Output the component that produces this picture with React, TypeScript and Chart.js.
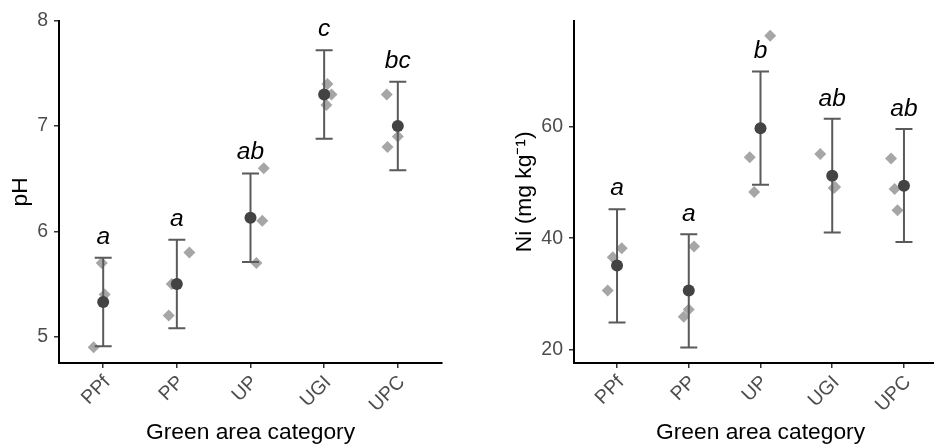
import React, { useEffect, useRef } from 'react';
import { Chart, registerables } from 'chart.js';

Chart.register(...registerables);

const FONT = "'Liberation Sans', Arial, Helvetica, sans-serif";

// ---------- data ----------
const categories = ['PPf', 'PP', 'UP', 'UGI', 'UPC'];

// pH panel
const phMean = [5.33, 5.5, 6.13, 7.3, 7.0];
const phLower = [4.91, 5.08, 5.71, 6.88, 6.58];
const phUpper = [5.75, 5.92, 6.55, 7.72, 7.42];
const phObs = [
  [5.7, 5.4, 4.9],
  [5.8, 5.5, 5.2],
  [6.6, 6.1, 5.7],
  [7.4, 7.3, 7.2],
  [7.3, 6.9, 6.8],
];
const phObsJitter = [
  [-0.02, 0.02, -0.13],
  [0.17, -0.07, -0.11],
  [0.18, 0.16, 0.08],
  [0.045, 0.1, 0.03],
  [-0.15, 0.0, -0.14],
];
const phLetters = ['a', 'a', 'ab', 'c', 'bc'];
const phLetterY = [5.88, 6.05, 6.69, 7.855, 7.555];
const phTicks = [5, 6, 7, 8];

// Ni panel
const niMean = [35.1, 30.6, 59.7, 51.2, 49.4];
const niLower = [24.9, 20.4, 49.6, 41.0, 39.3];
const niUpper = [45.2, 40.7, 69.9, 61.4, 59.6];
const niObs = [
  [38.2, 36.6, 30.6],
  [38.5, 27.2, 25.9],
  [76.3, 54.5, 48.3],
  [55.1, 49.2, 49.0],
  [54.3, 48.8, 45.0],
];
const niObsJitter = [
  [0.066, -0.06, -0.13],
  [0.074, 0.0, -0.07],
  [0.135, -0.15, -0.088],
  [-0.167, 0.04, 0.02],
  [-0.18, -0.13, -0.09],
];
const niLetters = ['a', 'a', 'b', 'ab', 'ab'];
const niLetterY = [47.77, 43.16, 72.25, 63.7, 61.97];
const niTicks = [20, 40, 60];

type PanelSpec = {
  mean: number[];
  lower: number[];
  upper: number[];
  obs: number[][];
  jitter: number[][];
  letters: string[];
  letterY: number[];
  ticks: number[];
  yMin: number;
  yMax: number;
  yTitle: string;
  yAxisWidth: number;
  yTitlePad: number;
};

function makeConfig(spec: PanelSpec): any {
  const means = spec.mean.map((v, i) => ({ x: i + 1, y: v }));
  const obs: { x: number; y: number }[] = [];
  spec.obs.forEach((vals, i) =>
    vals.forEach((v, j) => obs.push({ x: i + 1 + spec.jitter[i][j], y: v }))
  );

  const overlay = {
    id: 'overlay',
    afterDatasetDraw(chart: any, args: any) {
      if (args.index !== 1) return;
      const { ctx } = chart;
      const x = chart.scales.x;
      const y = chart.scales.y;
      ctx.save();
      ctx.strokeStyle = '#5a5a5a';
      ctx.lineWidth = 2;
      spec.lower.forEach((lo, i) => {
        const px = x.getPixelForValue(i + 1);
        const pl = y.getPixelForValue(lo);
        const pu = y.getPixelForValue(spec.upper[i]);
        ctx.beginPath();
        ctx.moveTo(px, pl);
        ctx.lineTo(px, pu);
        ctx.moveTo(px - 8.5, pl);
        ctx.lineTo(px + 8.5, pl);
        ctx.moveTo(px - 8.5, pu);
        ctx.lineTo(px + 8.5, pu);
        ctx.stroke();
      });
      ctx.restore();
    },
    afterDatasetsDraw(chart: any) {
      const { ctx } = chart;
      const x = chart.scales.x;
      const y = chart.scales.y;
      ctx.save();
      ctx.fillStyle = '#000';
      ctx.font = `italic 24.5px ${FONT}`;
      ctx.textAlign = 'center';
      ctx.textBaseline = 'alphabetic';
      spec.letters.forEach((t, i) => {
        ctx.fillText(t, x.getPixelForValue(i + 1), y.getPixelForValue(spec.letterY[i]));
      });
      ctx.restore();
    },
  };

  return {
    type: 'scatter',
    data: {
      datasets: [
        {
          label: 'mean',
          data: means,
          order: 0,
          pointRadius: 6,
          pointHoverRadius: 6,
          pointBackgroundColor: '#434343',
          pointBorderWidth: 0,
          pointBorderColor: 'rgba(0,0,0,0)',
        },
        {
          label: 'obs',
          data: obs,
          order: 1,
          pointStyle: 'rectRot',
          pointRadius: 6,
          pointHoverRadius: 6,
          pointBackgroundColor: '#a6a6a6',
          pointBorderWidth: 0,
          pointBorderColor: 'rgba(0,0,0,0)',
        },
      ],
    },
    options: {
      animation: false,
      responsive: false,
      devicePixelRatio: 1,
      events: [],
      layout: { padding: { left: 0, right: 25, top: 20.7, bottom: 0 } },
      plugins: { legend: { display: false }, tooltip: { enabled: false } },
      scales: {
        x: {
          type: 'linear',
          min: 0.4,
          max: 5.6,
          afterBuildTicks: (s: any) => {
            s.ticks = categories.map((_, i) => ({ value: i + 1 }));
          },
          afterFit: (s: any) => {
            s.height = 81;
          },
          grid: { drawOnChartArea: false, drawTicks: true, tickLength: 5, color: '#333', lineWidth: 1.5 },
          border: { display: true, color: '#000', width: 2 },
          ticks: {
            autoSkip: false,
            minRotation: 45,
            maxRotation: 45,
            padding: 3,
            labelOffset: 4,
            color: '#4d4d4d',
            font: { family: FONT, size: 19.5 },
            callback: (v: number) => categories[Math.round(v) - 1] ?? '',
          },
          title: {
            display: true,
            text: 'Green area category',
            color: '#000',
            font: { family: FONT, size: 22.8, lineHeight: 1 },
            padding: { top: 0, bottom: 0 },
          },
        },
        y: {
          type: 'linear',
          min: spec.yMin,
          max: spec.yMax,
          afterBuildTicks: (s: any) => {
            s.ticks = spec.ticks.map((v) => ({ value: v }));
          },
          afterFit: (s: any) => {
            s.width = spec.yAxisWidth;
          },
          grid: { drawOnChartArea: false, drawTicks: true, tickLength: 5, color: '#333', lineWidth: 1.5 },
          border: { display: true, color: '#000', width: 2 },
          ticks: {
            padding: 6,
            color: '#4d4d4d',
            font: { family: FONT, size: 19.5 },
            callback: (v: number) => String(v),
          },
          title: {
            display: true,
            text: spec.yTitle,
            color: '#000',
            font: { family: FONT, size: 22.8, lineHeight: 1.2 },
            padding: { top: spec.yTitlePad, bottom: 0 },
          },
        },
      },
    },
    plugins: [overlay],
  };
}

const phSpec: PanelSpec = {
  mean: phMean,
  lower: phLower,
  upper: phUpper,
  obs: phObs,
  jitter: phObsJitter,
  letters: phLetters,
  letterY: phLetterY,
  ticks: phTicks,
  yMin: 4.75,
  yMax: 8.0,
  yTitle: 'pH',
  yAxisWidth: 59,
  yTitlePad: 7.5,
};

const niSpec: PanelSpec = {
  mean: niMean,
  lower: niLower,
  upper: niUpper,
  obs: niObs,
  jitter: niObsJitter,
  letters: niLetters,
  letterY: niLetterY,
  ticks: niTicks,
  yMin: 17.62,
  yMax: 79.0,
  yTitle: 'Ni (mg kg\u207B\u00B9)',
  yAxisWidth: 107,
  yTitlePad: 44.5,
};

function Panel({ spec, left, width }: { spec: PanelSpec; left: number; width: number }) {
  const ref = useRef<HTMLCanvasElement | null>(null);
  useEffect(() => {
    if (!ref.current) return;
    const chart = new Chart(ref.current, makeConfig(spec));
    return () => chart.destroy();
  }, [spec]);
  return (
    <canvas
      ref={ref}
      width={width}
      height={444}
      style={{ position: 'absolute', left, top: 0, width, height: 444, display: 'block' }}
    />
  );
}

export default function App() {
  return (
    <div
      style={{
        position: 'absolute',
        left: 0,
        top: 0,
        width: 934,
        height: 444,
        overflow: 'hidden',
        background: '#fff',
      }}
    >
      <Panel spec={phSpec} left={0} width={467} />
      <Panel spec={niSpec} left={467} width={505} />
    </div>
  );
}
